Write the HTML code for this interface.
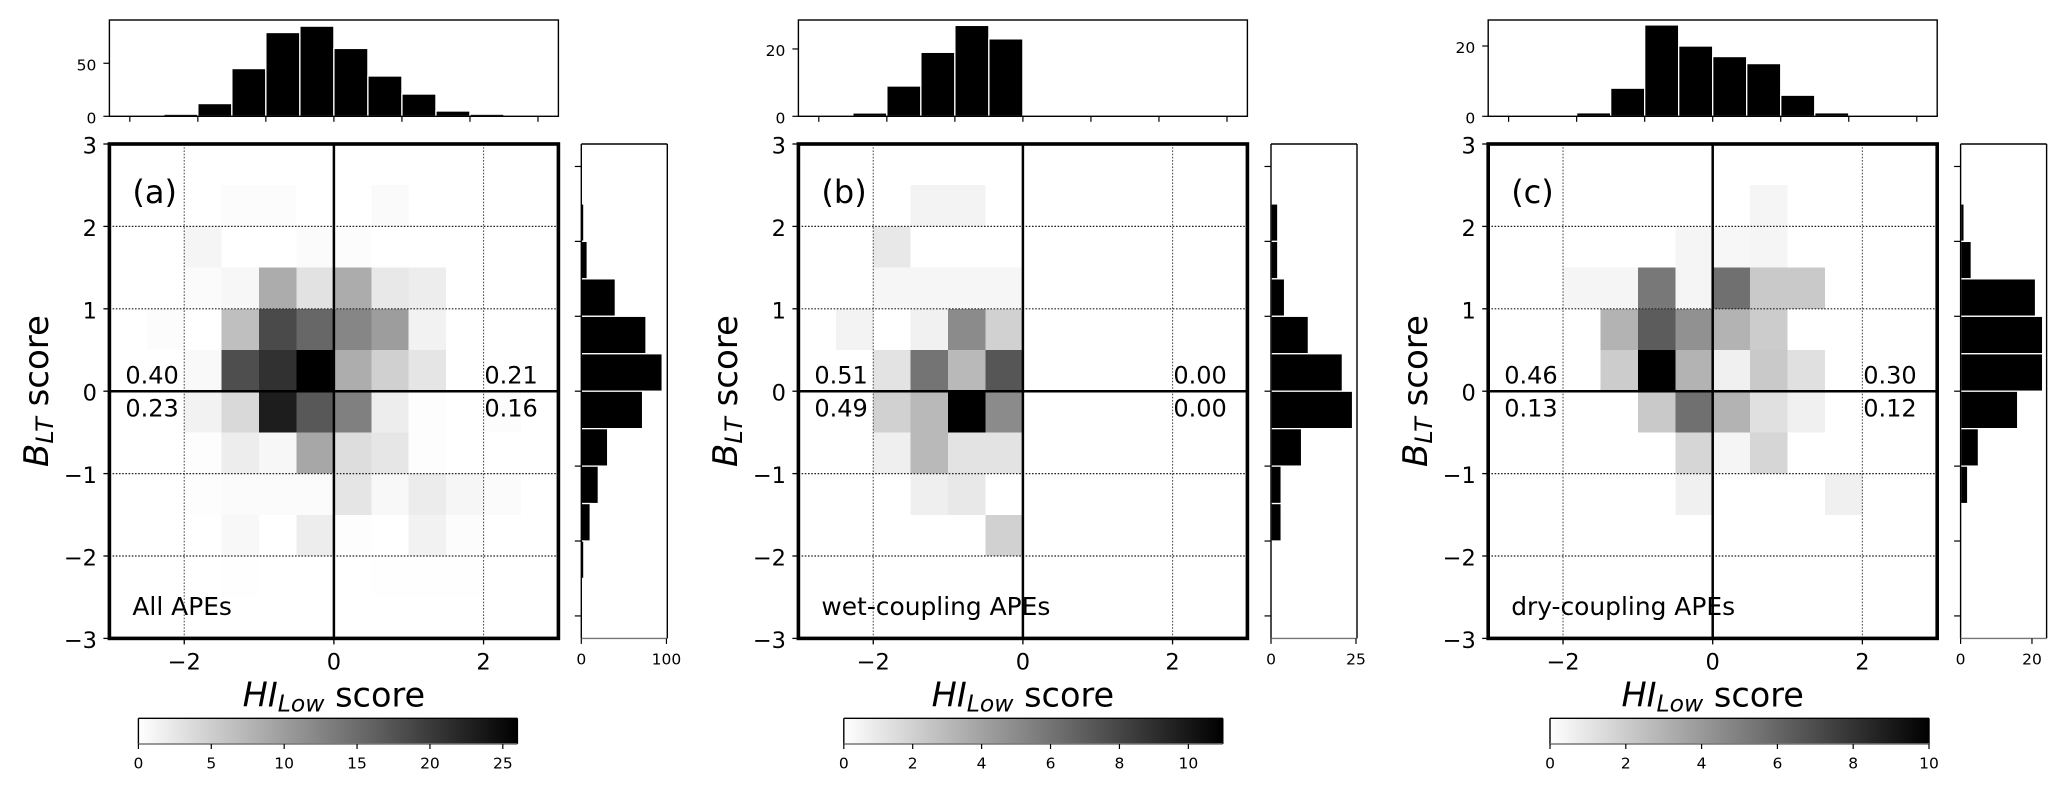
<!DOCTYPE html>
<html lang="en">
<head>
<meta charset="utf-8">
<title>HI Low score versus B LT score joint histograms</title>
<style>
html,body{margin:0;padding:0;background:#fff;}
body{width:2067px;height:789px;overflow:hidden;}
svg{display:block;}
text{font-family:"DejaVu Sans","Liberation Sans",sans-serif;fill:#000;}
</style>
</head>
<body>
<svg id="figure" xmlns="http://www.w3.org/2000/svg" width="2067" height="789" viewBox="0 0 2067 789">
<defs>
<linearGradient id="grayReversed" x1="0" x2="1" y1="0" y2="0">
<stop offset="0" stop-color="#fff"/>
<stop offset="1" stop-color="#000"/>
</linearGradient>
</defs>
<rect width="2067" height="789" fill="#fff"/>
</svg>
<script>
// ---------- Data ----------
const panelTags = ['(a)', '(b)', '(c)'];
const panelCaptions = ['All APEs', 'wet-coupling APEs', 'dry-coupling APEs'];
const quadrantFractionsLeft = [['0.40', '0.23'], ['0.51', '0.49'], ['0.46', '0.13']];
const quadrantFractionsRight = [['0.21', '0.16'], ['0.00', '0.00'], ['0.30', '0.12']];

const mainXTicks = [-2, 0, 2];
const mainYTicks = [-3, -2, -1, 0, 1, 2, 3];
const gridX = [-2, 2];
const gridY = [-2, -1, 1, 2];
const marginalTicks = [-3, -2, -1, 0, 1, 2, 3];

// counts per 0.5-wide HI bin, from -3 to 3
const topHistA = [0, 2, 12, 45, 79, 85, 64, 38, 21, 5, 2, 0];
const topHistB = [0, 1, 9, 19, 27, 23, 0, 0, 0, 0, 0, 0];
const topHistC = [0, 0, 1, 8, 26, 20, 17, 15, 6, 1, 0, 0];
const topHists = [topHistA, topHistB, topHistC];
const topHistMax = [90.8, 28.6, 27.4];
const topHistTicks = [[0, 50], [0, 20], [0, 20]];

// counts per 0.5-wide B bin, from 3 (top) to -3 (bottom)
const rightHistA = [0, 3, 7, 40, 76, 95, 72, 31, 20, 10.5, 3, 0];
const rightHistB = [0, 2, 2, 4, 11, 21, 24, 9, 3, 3, 0, 0];
const rightHistC = [0, 1, 3, 21, 23, 23, 16, 5, 2, 0, 0, 0];
const rightHists = [rightHistA, rightHistB, rightHistC];
const rightHistMax = [101, 25.3, 24.1];
const rightHistTicks = [[0, 100], [0, 25], [0, 20]];

// 2-D counts, rows from B = 3 downward, columns from HI = -3 rightward
const heatA = [
  [0,0,0,0,0,0,0,0,0,0,0,0],
  [0,0,0,.3,.3,0,0,.5,0,0,0,0],
  [0,0,1,0,0,.4,.3,0,0,0,0,0],
  [0,0,.4,.8,8.5,3,8.5,2.3,1.8,0,0,0],
  [0,.3,0,6.5,18.5,15.5,12.3,10,1.3,0,0,0],
  [0,0,.6,18,21,26,8.4,4.8,2.7,0,0,0],
  [0,0,1.3,3.9,23,17,13,1.8,.2,0,.3,0],
  [0,0,.2,1.8,.8,9,3.5,2.5,.2,0,0,0],
  [0,0,.25,.4,.4,.4,2.7,.7,1.9,.9,.4,0],
  [0,0,0,.7,0,1.8,.25,0,1.3,.3,0,0],
  [0,0,0,.15,0,0,0,.12,.12,.12,0,0],
  [0,0,0,0,0,0,0,0,0,0,0,0]
];
const heatB = [
  [0,0,0,0,0,0,0,0,0,0,0,0],
  [0,0,0,.5,.5,0,0,0,0,0,0,0],
  [0,0,1,0,0,0,0,0,0,0,0,0],
  [0,0,.4,.4,.4,.4,0,0,0,0,0,0],
  [0,.5,0,.6,5,2,0,0,0,0,0,0],
  [0,0,1.2,6,3,7.3,0,0,0,0,0,0],
  [0,0,2,3,11,5,0,0,0,0,0,0],
  [0,0,.7,3,1.2,1.2,0,0,0,0,0,0],
  [0,0,0,.7,1,0,0,0,0,0,0,0],
  [0,0,0,0,0,2,0,0,0,0,0,0],
  [0,0,0,0,0,0,0,0,0,0,0,0],
  [0,0,0,0,0,0,0,0,0,0,0,0]
];
const heatC = [
  [0,0,0,0,0,0,0,0,0,0,0,0],
  [0,0,0,0,0,0,0,.4,0,0,0,0],
  [0,0,0,0,0,.4,.3,.4,0,0,0,0],
  [0,0,.4,.4,5.3,.4,5.6,2.1,2.1,0,0,0],
  [0,0,0,3,6.4,4.3,3,2,0,0,0,0],
  [0,0,0,2,10,3,.6,2.1,1.2,0,0,0],
  [0,0,0,0,2.1,5.6,3,1.2,.6,0,0,0],
  [0,0,0,0,0,1.6,.4,1.6,0,0,0,0],
  [0,0,0,0,0,.6,0,0,0,.6,0,0],
  [0,0,0,0,0,0,0,0,0,0,0,0],
  [0,0,0,0,0,0,0,0,0,0,0,0],
  [0,0,0,0,0,0,0,0,0,0,0,0]
];
const heatmaps = [heatA, heatB, heatC];
const colorMax = [26, 11, 10];
const colorbarTicks = [[0, 5, 10, 15, 20, 25], [0, 2, 4, 6, 8, 10], [0, 2, 4, 6, 8, 10]];

// ---------- Layout (not data) ----------
const SVGNS = 'http://www.w3.org/2000/svg';
const MAIN_LEFT = [109.4, 798.4, 1488.2];
const RIGHT_LEFT = [581.3, 1271, 1960.6];
const BAR_LEFT = [138.4, 843.8, 1550];
const MAIN_W = 449;
const MAIN_TOP = 144;
const MAIN_BOTTOM = 638.4;
const TOP_TOP = 20;
const TOP_BOTTOM = 116.3;
const RIGHT_W = 86;
const CB_W = 379;
const CB_TOP = 718.3;
const CB_BOTTOM = 744;
const BIN_COUNT = 12;
const BIN = 0.5;

const figure = document.getElementById('figure');

function make(parent, tag, attrs) {
  const el = document.createElementNS(SVGNS, tag);
  for (const k in attrs) el.setAttribute(k, attrs[k]);
  parent.appendChild(el);
  return el;
}
function fmt(v) {
  return (v < 0 ? '\u2212' : '') + Math.abs(v);
}

panelTags.forEach(function (tag, p) {
  const L = MAIN_LEFT[p];
  const RL = RIGHT_LEFT[p];
  const CL = BAR_LEFT[p];
  const letter = 'abc'[p];

  // axis functions
  const xMain = function (v) { return L + (v + 3) / 6 * MAIN_W; };
  const yMain = function (v) { return MAIN_TOP + (3 - v) / 6 * (MAIN_BOTTOM - MAIN_TOP); };
  const xTop = function (v) { return L + (v + 3.3) / 6.6 * MAIN_W; };
  const yTop = function (v) { return TOP_BOTTOM - v / topHistMax[p] * (TOP_BOTTOM - TOP_TOP); };
  const yRight = function (v) { return MAIN_TOP + (3.3 - v) / 6.6 * (MAIN_BOTTOM - MAIN_TOP); };
  const xRight = function (v) { return RL + v / rightHistMax[p] * RIGHT_W; };
  const xColor = function (v) { return CL + v / colorMax[p] * CB_W; };

  const panel = make(figure, 'g', {});
  
  

  // ---- top marginal histogram ----
  const topGroup = make(panel, 'g', {});
  
  
  topHists[p].forEach(function (v, i) {
    if (v <= 0) return;
    const a = -3 + i * BIN;
    const bar = make(topGroup, 'rect', {
      x: xTop(a), y: yTop(v), width: xTop(a + BIN) - xTop(a), height: TOP_BOTTOM - yTop(v),
      fill: '#000', stroke: '#fff', 'stroke-width': 1.3
    });
    
    
  });
  const topFrame = make(topGroup, 'rect', {
    x: L, y: TOP_TOP, width: MAIN_W, height: TOP_BOTTOM - TOP_TOP,
    fill: 'none', stroke: '#000', 'stroke-width': 1.4
  });
  
  
  marginalTicks.forEach(function (v) {
    const t = make(topGroup, 'line', {
      x1: xTop(v), x2: xTop(v), y1: TOP_BOTTOM, y2: TOP_BOTTOM + 5.5, stroke: '#000', 'stroke-width': 1.2
    });
    
    
  });
  topHistTicks[p].forEach(function (v) {
    const t = make(topGroup, 'line', {
      x1: L - 6, x2: L, y1: yTop(v), y2: yTop(v), stroke: '#000', 'stroke-width': 1.2
    });
    
    
    const lab = make(topGroup, 'text', {
      x: L - 13, y: yTop(v) + 7, 'font-size': 15.5, 'text-anchor': 'end'
    });
    lab.textContent = fmt(v);
    
    
  });

  // ---- main 2-D histogram ----
  const mainGroup = make(panel, 'g', {});
  
  
  heatmaps[p].forEach(function (row, r) {
    row.forEach(function (v, c) {
      if (v <= 0) return;
      const gray = Math.round(255 * (1 - Math.min(v / colorMax[p], 1)));
      const x0 = -3 + c * BIN;
      const y1 = 3 - r * BIN;
      const cell = make(mainGroup, 'rect', {
        x: xMain(x0), y: yMain(y1), width: xMain(x0 + BIN) - xMain(x0), height: yMain(y1 - BIN) - yMain(y1),
        fill: 'rgb(' + gray + ',' + gray + ',' + gray + ')', 'shape-rendering': 'crispEdges'
      });
      
      
    });
  });
  gridX.forEach(function (v) {
    const g = make(mainGroup, 'line', {
      x1: xMain(v), x2: xMain(v), y1: MAIN_TOP, y2: MAIN_BOTTOM,
      stroke: '#555', 'stroke-width': 1.1, 'stroke-dasharray': '1.6 1.6'
    });
    
    
  });
  gridY.forEach(function (v) {
    const g = make(mainGroup, 'line', {
      x1: L, x2: L + MAIN_W, y1: yMain(v), y2: yMain(v),
      stroke: '#222', 'stroke-width': 1.2, 'stroke-dasharray': '1.6 1.6'
    });
    
    
  });
  const zeroV = make(mainGroup, 'line', {
    x1: xMain(0), x2: xMain(0), y1: MAIN_TOP, y2: MAIN_BOTTOM, stroke: '#000', 'stroke-width': 2.5
  });
  
  
  const zeroH = make(mainGroup, 'line', {
    x1: L, x2: L + MAIN_W, y1: yMain(0), y2: yMain(0), stroke: '#000', 'stroke-width': 2.5
  });
  
  
  const mainFrame = make(mainGroup, 'rect', {
    x: L, y: MAIN_TOP, width: MAIN_W, height: MAIN_BOTTOM - MAIN_TOP,
    fill: 'none', stroke: '#000', 'stroke-width': 3.6
  });
  
  

  mainXTicks.forEach(function (v) {
    const t = make(mainGroup, 'line', {
      x1: xMain(v), x2: xMain(v), y1: MAIN_BOTTOM, y2: MAIN_BOTTOM + 6, stroke: '#000', 'stroke-width': 1.3
    });
    
    
    const lab = make(mainGroup, 'text', {
      x: xMain(v), y: 669.5, 'font-size': 22.5, 'text-anchor': 'middle'
    });
    lab.textContent = fmt(v);
    
    
  });
  mainYTicks.forEach(function (v) {
    const t = make(mainGroup, 'line', {
      x1: L - 6, x2: L, y1: yMain(v), y2: yMain(v), stroke: '#000', 'stroke-width': 1.3
    });
    
    
    const lab = make(mainGroup, 'text', {
      x: L - 12.4, y: yMain(v) + 9.5, 'font-size': 22.5, 'text-anchor': 'end'
    });
    lab.textContent = fmt(v);
    
    
  });

  // annotations
  const tagText = make(mainGroup, 'text', { x: L + 23, y: 203, 'font-size': 32 });
  tagText.textContent = tag;
  
  
  const caption = make(mainGroup, 'text', { x: L + 23, y: 615, 'font-size': 24.9 });
  caption.textContent = panelCaptions[p];
  
  
  const baselines = [383.3, 416.7];
  quadrantFractionsLeft[p].forEach(function (s, i) {
    const t = make(mainGroup, 'text', { x: L + 16, y: baselines[i], 'font-size': 24 });
    t.textContent = s;
    
    
  });
  quadrantFractionsRight[p].forEach(function (s, i) {
    const t = make(mainGroup, 'text', { x: L + 375, y: baselines[i], 'font-size': 24 });
    t.textContent = s;
    
    
  });

  // axis titles
  const xTitle = make(panel, 'text', { x: L + MAIN_W / 2, y: 706.7, 'font-size': 33.5, 'text-anchor': 'middle' });
  
  
  make(xTitle, 'tspan', { 'font-style': 'italic' }).textContent = 'HI';
  make(xTitle, 'tspan', { 'font-style': 'italic', 'font-size': 23.5, dy: 5 }).textContent = 'Low';
  make(xTitle, 'tspan', { dy: -5 }).textContent = ' score';

  const yTitle = make(panel, 'text', {
    'font-size': 34, 'text-anchor': 'middle',
    transform: 'translate(' + (L - 61.4) + ',391) rotate(-90)'
  });
  
  
  make(yTitle, 'tspan', { 'font-style': 'italic' }).textContent = 'B';
  make(yTitle, 'tspan', { 'font-style': 'italic', 'font-size': 24, dy: 5 }).textContent = 'LT';
  make(yTitle, 'tspan', { dy: -5 }).textContent = ' score';

  // ---- right marginal histogram ----
  const rightGroup = make(panel, 'g', {});
  
  
  rightHists[p].forEach(function (v, i) {
    if (v <= 0) return;
    const top = 3 - i * BIN;
    const bar = make(rightGroup, 'rect', {
      x: RL, y: yRight(top), width: xRight(v) - RL, height: yRight(top - BIN) - yRight(top),
      fill: '#000', stroke: '#fff', 'stroke-width': 1.3
    });
    
    
  });
  const spineSegments = [
    [RL, MAIN_TOP, RL, MAIN_BOTTOM, '#000'],
    [RL, MAIN_TOP, RL + RIGHT_W, MAIN_TOP, '#000'],
    [RL + RIGHT_W, MAIN_TOP, RL + RIGHT_W, MAIN_BOTTOM, '#000'],
    [RL, MAIN_BOTTOM, RL + RIGHT_W, MAIN_BOTTOM, '#777']
  ];
  spineSegments.forEach(function (s) {
    const sp = make(rightGroup, 'line', { x1: s[0], y1: s[1], x2: s[2], y2: s[3], stroke: s[4], 'stroke-width': 1.4 });
    
    
  });
  marginalTicks.forEach(function (v) {
    const t = make(rightGroup, 'line', {
      x1: RL - 6.5, x2: RL, y1: yRight(v), y2: yRight(v), stroke: '#000', 'stroke-width': 1.2
    });
    
    
  });
  rightHistTicks[p].forEach(function (v) {
    const t = make(rightGroup, 'line', {
      x1: xRight(v), x2: xRight(v), y1: MAIN_BOTTOM, y2: MAIN_BOTTOM + 5.5, stroke: '#000', 'stroke-width': 1.2
    });
    
    
    const lab = make(rightGroup, 'text', {
      x: xRight(v), y: 664.5, 'font-size': 15.5, 'text-anchor': 'middle'
    });
    lab.textContent = fmt(v);
    
    
  });

  // ---- colorbar ----
  const cbGroup = make(panel, 'g', {});
  
  
  const cbRect = make(cbGroup, 'rect', {
    x: CL, y: CB_TOP, width: CB_W, height: CB_BOTTOM - CB_TOP, fill: 'url(#grayReversed)'
  });
  
  
  const cbSegments = [
    [CL, CB_TOP, CL, CB_BOTTOM, '#000'],
    [CL, CB_TOP, CL + CB_W, CB_TOP, '#000'],
    [CL + CB_W, CB_TOP, CL + CB_W, CB_BOTTOM, '#000'],
    [CL, CB_BOTTOM, CL + CB_W, CB_BOTTOM, '#777']
  ];
  cbSegments.forEach(function (s) {
    const sp = make(cbGroup, 'line', { x1: s[0], y1: s[1], x2: s[2], y2: s[3], stroke: s[4], 'stroke-width': 1.4 });
    
    
  });
  colorbarTicks[p].forEach(function (v) {
    const t = make(cbGroup, 'line', {
      x1: xColor(v), x2: xColor(v), y1: CB_BOTTOM, y2: CB_BOTTOM + 5, stroke: '#000', 'stroke-width': 1.2
    });
    
    
    const lab = make(cbGroup, 'text', {
      x: xColor(v), y: 768.5, 'font-size': 15.5, 'text-anchor': 'middle'
    });
    lab.textContent = fmt(v);
    
    
  });
});
</script>
</body>
</html>
